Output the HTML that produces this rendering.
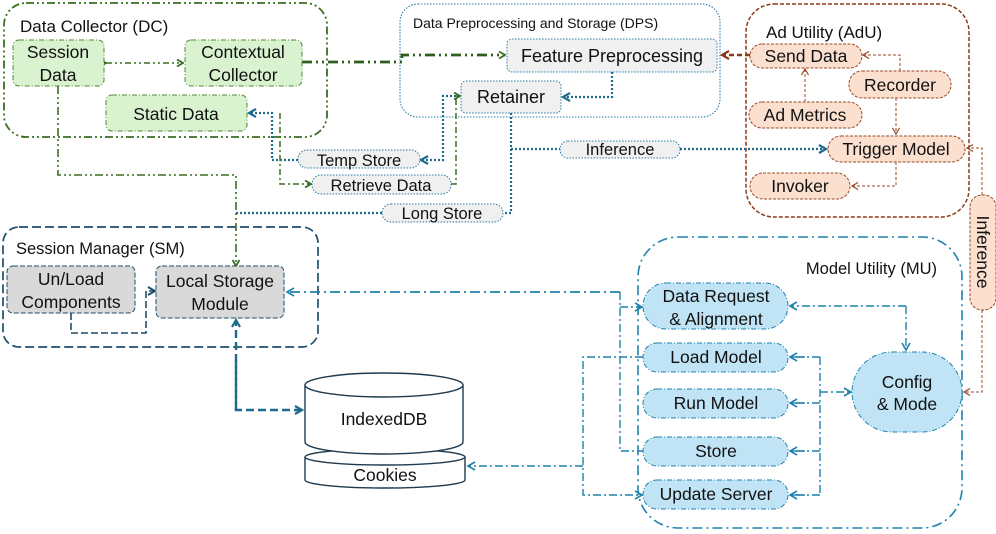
<!DOCTYPE html>
<html><head><meta charset="utf-8"><style>
html,body{margin:0;padding:0;background:#fff;}
svg{display:block;font-family:"Liberation Sans",sans-serif;}
</style></head><body>
<svg width="996" height="534" viewBox="0 0 996 534" xmlns="http://www.w3.org/2000/svg">
<defs>
<marker id="ag" markerWidth="8" markerHeight="8" refX="7" refY="4" orient="auto" markerUnits="userSpaceOnUse"><path d="M1,0.5 L7,4 L1,7.5" fill="none" stroke="#3b6e22" stroke-width="1.8"/></marker>
<marker id="ab" markerWidth="10" markerHeight="10" refX="8" refY="5" orient="auto" markerUnits="userSpaceOnUse"><path d="M1,1 L8,5 L1,9" fill="none" stroke="#1f6a8f" stroke-width="2.2"/></marker>
<marker id="abl" markerWidth="10" markerHeight="10" refX="8" refY="5" orient="auto" markerUnits="userSpaceOnUse"><path d="M1,1 L8,5 L1,9" fill="none" stroke="#1f82ad" stroke-width="1.6"/></marker>
<marker id="ad" markerWidth="10" markerHeight="10" refX="8" refY="5" orient="auto" markerUnits="userSpaceOnUse"><path d="M1,1 L8,5 L1,9" fill="none" stroke="#1f4e6b" stroke-width="2"/></marker>
<marker id="ar" markerWidth="8" markerHeight="8" refX="7" refY="4" orient="auto" markerUnits="userSpaceOnUse"><path d="M1,0.5 L7,4 L1,7.5" fill="none" stroke="#9a4a26" stroke-width="1.2"/></marker>
<marker id="arb" markerWidth="10" markerHeight="10" refX="8" refY="5" orient="auto" markerUnits="userSpaceOnUse"><path d="M1,1 L8,5 L1,9" fill="none" stroke="#8a3a18" stroke-width="2.2"/></marker>
</defs>

<rect x="4" y="3" width="323" height="134" rx="22" fill="none" stroke="#3b6e22" stroke-width="1.8" stroke-dasharray="8,3,2,3,2,3"/>
<text x="20" y="32" font-size="17" fill="#111">Data Collector (DC)</text>
<rect x="400" y="4" width="320" height="113" rx="18" fill="none" stroke="#2d7ba6" stroke-width="1.1" stroke-dasharray="1.5,1.5"/>
<text x="413" y="28" font-size="14" fill="#111">Data Preprocessing and Storage (DPS)</text>
<rect x="746" y="4" width="223" height="213" rx="28" fill="none" stroke="#8a3a18" stroke-width="1.5" stroke-dasharray="4,2"/>
<text x="766" y="38" font-size="17" fill="#111">Ad Utility (AdU)</text>
<rect x="3" y="227" width="315" height="120" rx="16" fill="none" stroke="#1f4e6b" stroke-width="1.7" stroke-dasharray="9,4"/>
<text x="16" y="254" font-size="16.5" fill="#111">Session Manager (SM)</text>
<rect x="638" y="237" width="324" height="291" rx="40" fill="none" stroke="#1f82ad" stroke-width="1.6" stroke-dasharray="10,4,2,4"/>
<text x="937" y="274" font-size="16.5" fill="#111" text-anchor="end">Model Utility (MU)</text>

<g fill="none">
<path d="M106,63 L183,63" stroke="#3b6e22" stroke-width="1.5" stroke-dasharray="6,3,2,3,2,3" marker-start="url(#ag)" marker-end="url(#ag)"/>
<path d="M302,62 L402,62 L402,55 L505,55" stroke="#2f5d1c" stroke-width="2.8" stroke-dasharray="10,4,2,4,2,4" marker-end="url(#ag)"/>
<path d="M612,72 L612,97 L563,97" stroke="#1f6a8f" stroke-width="2.2" stroke-dasharray="2,2" marker-end="url(#ab)"/>
<path d="M460,96 L443,96 L443,160 L421,160" stroke="#1f6a8f" stroke-width="2.2" stroke-dasharray="2,2" marker-end="url(#ab)"/>
<path d="M298,160 L272,160 L272,113 L249,113" stroke="#1f6a8f" stroke-width="2.2" stroke-dasharray="2,2" marker-end="url(#ab)"/>
<path d="M280,113 L280,184 L311,184" stroke="#3b6e22" stroke-width="1.5" stroke-dasharray="6,3,2,3" marker-end="url(#ag)"/>
<path d="M451,184 L456,184 L456,96 L460,96" stroke="#3b6e22" stroke-width="1.5" stroke-dasharray="6,3,2,3" marker-end="url(#ag)"/>
<path d="M511,113 L511,213 L503,213" stroke="#1f6a8f" stroke-width="2.2" stroke-dasharray="2,2"/>
<path d="M382,213 L236,213" stroke="#1f6a8f" stroke-width="2.2" stroke-dasharray="2,2"/>
<path d="M511,149 L560,149 M680,149 L826,149" stroke="#1f6a8f" stroke-width="2.2" stroke-dasharray="2,2" marker-end="url(#ab)"/>
<path d="M58,86 L58,175 L236,175 L236,266" stroke="#3b6e22" stroke-width="1.6" stroke-dasharray="8,3,2,3,2,3" marker-end="url(#ag)"/>
<path d="M750,55 L722,55" stroke="#8a3a18" stroke-width="2.6" stroke-dasharray="5,3" marker-end="url(#arb)"/>
<path d="M900,71 L900,55 L863,55" stroke="#9a4a26" stroke-width="1" stroke-dasharray="3,2" marker-end="url(#ar)"/>
<path d="M896,98 L896,134" stroke="#9a4a26" stroke-width="1" stroke-dasharray="3,2" marker-end="url(#ar)"/>
<path d="M805,102 L805,69" stroke="#9a4a26" stroke-width="1" stroke-dasharray="3,2" marker-end="url(#ar)"/>
<path d="M896,162 L896,186 L852,186" stroke="#9a4a26" stroke-width="1" stroke-dasharray="3,2" marker-end="url(#ar)"/>
<path d="M982,310 L982,392 L964,392" stroke="#9a4a26" stroke-width="1" stroke-dasharray="3,2" marker-end="url(#ar)"/>
<path d="M982,195 L982,148 L967,148" stroke="#9a4a26" stroke-width="1" stroke-dasharray="3,2" marker-end="url(#ar)"/>
<path d="M71,313 L71,333 L146,333 L146,291 L155,291" stroke="#1f4e6b" stroke-width="1.6" stroke-dasharray="7,3" marker-end="url(#ad)"/>
<path d="M236,410 L236,320" stroke="#1f6a8f" stroke-width="2.4" stroke-dasharray="8,4" marker-end="url(#ab)"/>
<path d="M236,360 L236,410 L302,410" stroke="#1f6a8f" stroke-width="2.4" stroke-dasharray="8,4" marker-end="url(#ab)"/>
<path d="M620,292 L287,292" stroke="#1f82ad" stroke-width="1.8" stroke-dasharray="10,4,2,4" marker-end="url(#abl)"/>
<path d="M620,292 L620,451 L643,451" stroke="#1f82ad" stroke-width="1.4" stroke-dasharray="8,3,2,3"/>
<path d="M620,307 L642,307" stroke="#1f82ad" stroke-width="1.4" stroke-dasharray="8,3,2,3" marker-end="url(#abl)"/>
<path d="M643,357 L583,357 L583,495 L642,495" stroke="#1f82ad" stroke-width="1.4" stroke-dasharray="8,3,2,3" marker-end="url(#abl)"/>
<path d="M583,466 L468,466" stroke="#1f82ad" stroke-width="1.4" stroke-dasharray="8,3,2,3" marker-end="url(#abl)"/>
<path d="M906,306 L790,306" stroke="#1f82ad" stroke-width="1.4" stroke-dasharray="8,3,2,3" marker-end="url(#abl)"/>
<path d="M906,306 L906,350" stroke="#1f82ad" stroke-width="1.4" stroke-dasharray="8,3,2,3" marker-end="url(#abl)"/>
<path d="M820,357 L820,495" stroke="#1f82ad" stroke-width="1.4" stroke-dasharray="8,3,2,3"/>
<path d="M820,357 L790,357 M820,403 L790,403 M820,451 L790,451 M820,495 L790,495" stroke="#1f82ad" stroke-width="1.4" stroke-dasharray="8,3,2,3"/>
<path d="M805,357 L790,357" stroke="#1f82ad" stroke-width="1.4" marker-end="url(#abl)"/>
<path d="M805,403 L790,403" stroke="#1f82ad" stroke-width="1.4" marker-end="url(#abl)"/>
<path d="M805,451 L790,451" stroke="#1f82ad" stroke-width="1.4" marker-end="url(#abl)"/>
<path d="M805,495 L790,495" stroke="#1f82ad" stroke-width="1.4" marker-end="url(#abl)"/>
<path d="M820,392 L851,392" stroke="#1f82ad" stroke-width="1.4" stroke-dasharray="8,3,2,3" marker-end="url(#abl)"/>
</g>

<g stroke="#4f8a33" stroke-width="1" stroke-dasharray="5,2,1,2" fill="#d9f2d0">
<rect x="13" y="40" width="91" height="46" rx="6"/>
<rect x="185" y="40" width="117" height="46" rx="6"/>
<rect x="106" y="95" width="141" height="36" rx="6"/>
</g>
<g font-size="17.5" fill="#111" text-anchor="middle">
<text x="58" y="58">Session</text><text x="58" y="81">Data</text>
<text x="243" y="58">Contextual</text><text x="243" y="81">Collector</text>
<text x="176" y="120">Static Data</text>
</g>

<g stroke="#2d7ba6" stroke-width="1" stroke-dasharray="1.5,1.5" fill="#f0f0f0">
<rect x="507" y="39" width="210" height="33" rx="5"/>
<rect x="461" y="81" width="100" height="32" rx="5"/>
<rect x="298" y="150" width="122" height="18" rx="9"/>
<rect x="312" y="175" width="139" height="19" rx="9"/>
<rect x="382" y="204" width="121" height="18" rx="9"/>
<rect x="560" y="141" width="120" height="17" rx="8"/>
</g>
<g font-size="18" fill="#111" text-anchor="middle">
<text x="612" y="62">Feature Preprocessing</text>
<text x="511" y="103">Retainer</text>
</g>
<g font-size="16.5" fill="#111" text-anchor="middle">
<text x="359" y="166">Temp Store</text>
<text x="381" y="191">Retrieve Data</text>
<text x="442" y="219">Long Store</text>
<text x="620" y="155">Inference</text>
</g>

<g stroke="#9a4a26" stroke-width="1" stroke-dasharray="3,1.5" fill="#fbe0d0">
<rect x="750" y="44" width="112" height="24" rx="12"/>
<rect x="849" y="71" width="102" height="27" rx="13"/>
<rect x="749" y="102" width="113" height="26" rx="13"/>
<rect x="828" y="136" width="137" height="26" rx="13"/>
<rect x="750" y="173" width="100" height="26" rx="13"/>
<rect x="970" y="195" width="26" height="115" rx="12"/>
</g>
<g font-size="17.5" fill="#111" text-anchor="middle">
<text x="806" y="62">Send Data</text>
<text x="900" y="91">Recorder</text>
<text x="805" y="121">Ad Metrics</text>
<text x="896" y="155">Trigger Model</text>
<text x="800" y="192">Invoker</text>
<text x="0" y="0" transform="translate(977,252) rotate(90)">Inference</text>
</g>

<g stroke="#1f4e6b" stroke-width="1" stroke-dasharray="5,2" fill="#d9d9d9">
<rect x="7" y="266" width="128" height="47" rx="6"/>
<rect x="156" y="266" width="128" height="52" rx="6"/>
</g>
<g font-size="17.5" fill="#111" text-anchor="middle">
<text x="71" y="285">Un/Load</text><text x="71" y="308">Components</text>
<text x="220" y="287">Local Storage</text><text x="220" y="310">Module</text>
</g>

<g stroke="#1f3a4e" stroke-width="1.4" fill="#fff">
<path d="M305,457 L305,480 A80,8 0 0 0 465,480 L465,457"/>
<ellipse cx="385" cy="457" rx="80" ry="8"/>
<path d="M305,385 L305,442 A79,12 0 0 0 463,442 L463,385"/>
<ellipse cx="384" cy="385" rx="79" ry="12"/>
</g>
<text x="384" y="425" font-size="17.5" fill="#111" text-anchor="middle">IndexedDB</text>
<text x="385" y="481" font-size="17.5" fill="#111" text-anchor="middle">Cookies</text>

<g stroke="#1f82ad" stroke-width="1" stroke-dasharray="5,2,1,2" fill="#c0e4f5">
<rect x="643" y="283" width="145" height="46" rx="23"/>
<rect x="643" y="343" width="145" height="29" rx="14"/>
<rect x="643" y="389" width="145" height="29" rx="14"/>
<rect x="643" y="437" width="145" height="29" rx="14"/>
<rect x="643" y="480" width="145" height="29" rx="14"/>
<rect x="852" y="352" width="110" height="80" rx="40"/>
</g>
<g font-size="17.5" fill="#111" text-anchor="middle">
<text x="716" y="302">Data Request</text><text x="716" y="325">&amp; Alignment</text>
<text x="716" y="363">Load Model</text>
<text x="716" y="409">Run Model</text>
<text x="716" y="457">Store</text>
<text x="716" y="500">Update Server</text>
<text x="907" y="388">Config</text><text x="907" y="410">&amp; Mode</text>
</g>
</svg>
</body></html>
